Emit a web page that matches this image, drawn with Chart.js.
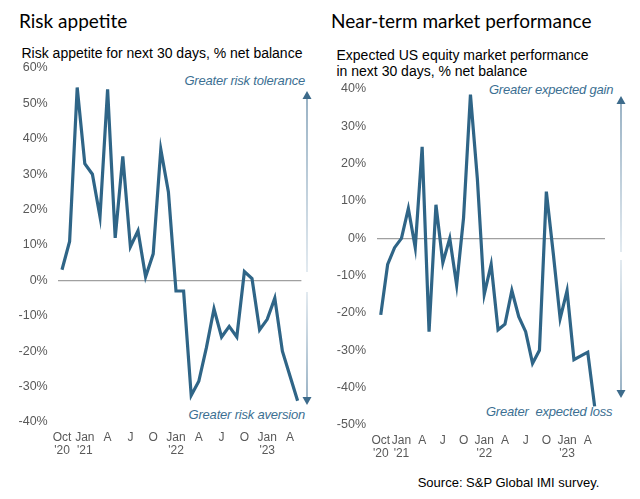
<!DOCTYPE html>
<html><head><meta charset="utf-8">
<script src="https://cdn.jsdelivr.net/npm/chart.js@4"></script>
<style>
html,body{margin:0;padding:0;background:#fff;}
body{width:640px;height:499px;position:relative;overflow:hidden;font-family:"Liberation Sans",Arial,sans-serif;}
.t{position:absolute;white-space:nowrap;}
.title{font-family:Lato,"Noto Sans",sans-serif;font-size:19px;line-height:24px;color:#000;}
.sub{font-size:14px;line-height:15.7px;color:#000;}
.ann{font-size:13px;line-height:16px;font-style:italic;color:#3c6f92;letter-spacing:-0.2px;}
.src{font-size:13px;line-height:16px;color:#000;}
.cv{position:absolute;top:0;}
</style></head>
<body>
<div class="t title" style="left:19px;top:9px;">Risk appetite</div>
<div class="t title" style="left:331px;top:9px;">Near-term market performance</div>
<div class="t sub" style="left:21.5px;top:45.5px;">Risk appetite for next 30 days, % net balance</div>
<div class="t sub" style="left:336.5px;top:48.2px;">Expected US equity market performance<br>in next 30 days, % net balance</div>
<div class="t ann" style="right:335px;top:73px;">Greater risk tolerance</div>
<div class="t ann" style="right:335px;top:407px;">Greater risk aversion</div>
<div class="t ann" style="right:26.7px;top:82px;">Greater expected gain</div>
<div class="t ann" style="right:27.7px;top:404.3px;">Greater&nbsp; expected loss</div>
<div class="t src" style="left:417.7px;top:475.3px;">Source: S&amp;P Global IMI survey.</div>
<canvas id="c1" class="cv" width="320" height="470" style="left:0;"></canvas>
<canvas id="c2" class="cv" width="320" height="470" style="left:320px;"></canvas>
<script>
// ---- data ----
const monthsLeft = ["Oct 2020","Nov 2020","Dec 2020","Jan 2021","Feb 2021","Mar 2021","Apr 2021","May 2021","Jun 2021","Jul 2021","Aug 2021","Sep 2021","Oct 2021","Nov 2021","Dec 2021","Jan 2022","Feb 2022","Mar 2022","Apr 2022","May 2022","Jun 2022","Jul 2022","Aug 2022","Sep 2022","Oct 2022","Nov 2022","Dec 2022","Jan 2023","Feb 2023","Mar 2023","Apr 2023","May 2023"];
const monthsRight = monthsLeft.concat(["Jun 2023"]);
const riskAppetite = [3, 11, 54.5, 33, 30, 18, 54, 12, 35, 9.5, 14, 1, 7.5, 37, 25, -3, -3, -32.5, -28.5, -19, -8, -16, -13, -16, 2.5, 0.5, -14, -11, -5, -20, -27, -34];
const marketPerf = [-20.5, -7, -2.5, 0, 8, -2.5, 24.5, -25, 9, -6.5, 0, -12.5, 5.5, 38.5, 16, -15, -7, -24.5, -23, -14, -21, -25, -33.5, -30, 12.5, -4, -21.5, -14, -32.5, -31.5, -30.5, -45, null];
const tickLabels = [["Oct","'20"],["Jan","'21"],"A","J","O",["Jan","'22"],"A","J","O",["Jan","'23"],"A"];

const LINE = '#2f6587';
const TICK = '#595959';

const arrowPlugin = {
  id: 'arrows',
  afterDraw(chart, args, o) {
    const ctx = chart.ctx;
    const draw = (x, y0, y1) => {
      const dir = y1 < y0 ? -1 : 1;
      const g = ctx.createLinearGradient(0, y0, 0, y1);
      g.addColorStop(0, '#d3dfe8');
      g.addColorStop(1, '#5f86a3');
      ctx.save();
      ctx.strokeStyle = g; ctx.lineWidth = 1.3;
      ctx.beginPath(); ctx.moveTo(x, y0); ctx.lineTo(x, y1 - dir * 6); ctx.stroke();
      ctx.fillStyle = '#3d6b8b';
      ctx.beginPath();
      ctx.moveTo(x, y1);
      ctx.lineTo(x - 4.5, y1 - dir * 8);
      ctx.lineTo(x + 4.5, y1 - dir * 8);
      ctx.closePath(); ctx.fill();
      ctx.restore();
    };
    draw(o.x, o.upFrom, o.upTo);
    draw(o.x, o.downFrom, o.downTo);
  }
};

function makeChart(id, labels, data, yMin, yMax, pad, yWidth, yPad, arrows) {
  return new Chart(document.getElementById(id), {
    type: 'line',
    data: { labels: labels, datasets: [{ data: data, borderColor: LINE, borderWidth: 3.2, pointRadius: 0, tension: 0, fill: false, spanGaps: false }] },
    options: {
      responsive: false, animation: false,
      layout: { padding: pad },
      plugins: { legend: { display: false }, tooltip: { enabled: false }, arrows: arrows },
      scales: {
        x: {
          type: 'category', offset: true,
          grid: { display: false }, border: { display: false },
          afterFit: s => { s.height = 40; },
          ticks: {
            autoSkip: false, maxRotation: 0, minRotation: 0, padding: 1, color: TICK,
            font: { family: '"Liberation Sans", Arial, sans-serif', size: 12, lineHeight: 1.1 },
            callback: (v, i) => (i % 3 === 0 && tickLabels[i / 3] !== undefined) ? tickLabels[i / 3] : ''
          }
        },
        y: {
          min: yMin, max: yMax,
          border: { display: false },
          afterFit: s => { s.width = yWidth; },
          grid: { drawTicks: false, lineWidth: 1.3, color: c => (c.tick && c.tick.value === 0) ? '#a0a0a0' : 'rgba(0,0,0,0)' },
          ticks: { stepSize: 10, padding: yPad, color: TICK, font: { family: '"Liberation Sans", Arial, sans-serif', size: 12.5 }, callback: v => v + '%' }
        }
      }
    },
    plugins: [arrowPlugin]
  });
}

makeChart('c1', monthsLeft, riskAppetite, -40, 60, { left: 0, right: 18.6, top: 68, bottom: 8 }, 58.2, 10.5,
  { x: 307, upFrom: 272, upTo: 91, downFrom: 292, downTo: 405 });
makeChart('c2', monthsRight, marketPerf, -50, 40, { left: 0, right: 35, top: 89, bottom: 5 }, 57.3, 11.3,
  { x: 301, upFrom: 252, upTo: 96, downFrom: 260, downTo: 398 });
</script>
</body></html>
